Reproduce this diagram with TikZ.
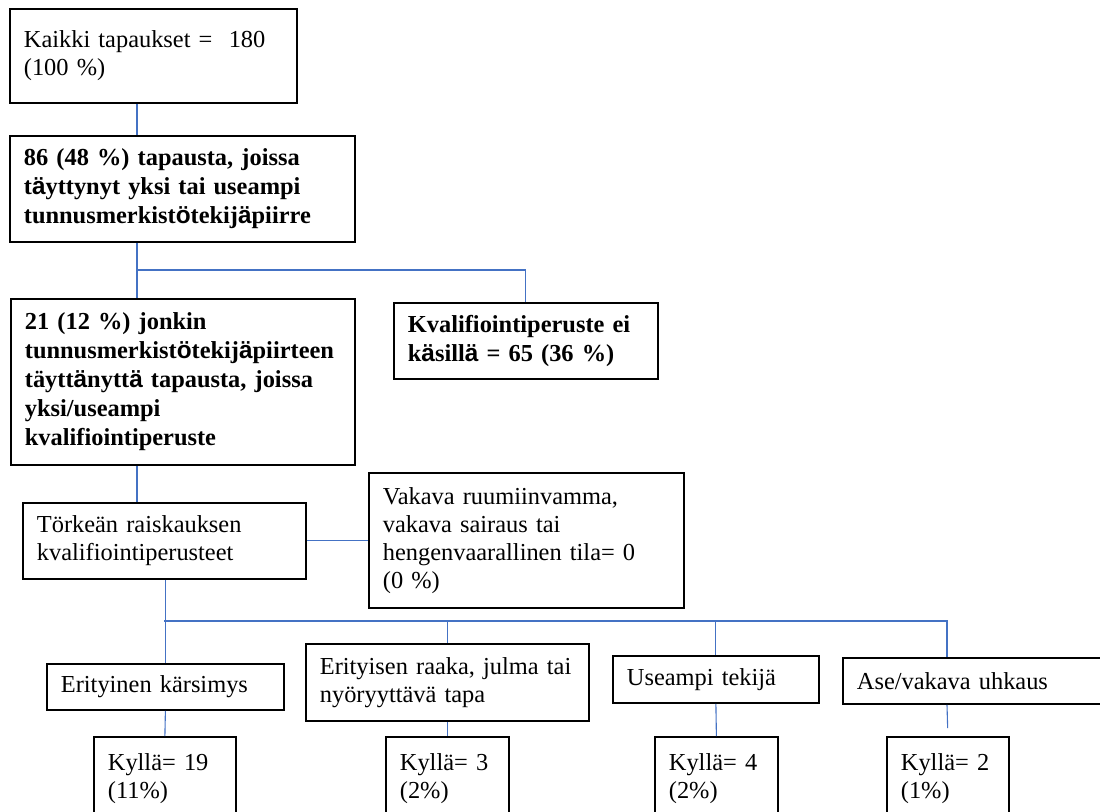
\documentclass[tikz,border=0pt]{standalone}
\usepackage{fontspec}
\setmainfont{Liberation Serif}
\newfontfamily\glyphsans{Liberation Sans}
\usepackage{tikz}
\definecolor{linkblue}{RGB}{68,114,196}
\newcommand{\altch}[1]{{\glyphsans #1}}
\tikzset{
  box/.style={draw, line width=0.9pt, anchor=north west, align=left, inner xsep=7pt, inner ysep=2pt, font=\fontsize{12.2}{14}\selectfont},
  boldbox/.style={box, font=\fontsize{12.2}{14.5}\selectfont\bfseries},
  link/.style={draw=linkblue, line width=0.55pt}
}

\begin{document}
\begin{tikzpicture}[x=0.5pt, y=-0.5pt]
  \useasboundingbox (0,0) rectangle (1100,811);
  \clip (0,0) rectangle (1100,811);
  % upper part
  \node[box, text width=129.5pt, minimum height=47pt] (all) at (9,8) {Kaikki tapaukset =\ \ 180\\(100 \%)};
  \node[boldbox, text width=158.5pt, minimum height=53pt] (crit) at (9,135) {86 (48 \%) tapausta, joissa\\t\altch{ä}yttynyt yksi tai useampi\\tunnusmerkist\altch{ö}tekij\altch{ä}piirre};
  \node[boldbox, text width=158pt, minimum height=83pt] (qual) at (10,298) {21 (12 \%) jonkin\\tunnusmerkist\altch{ö}tekij\altch{ä}piirteen\\täytt\altch{ä}nytt\altch{ä} tapausta, joissa\\yksi/useampi\\kvalifiointiperuste};
  \node[boldbox, text width=118pt, minimum height=38pt] (noqual) at (393,302) {Kvalifiointiperuste ei\\k\altch{ä}sill\altch{ä} = 65 (36 \%)};
  \node[box, text width=127.5pt, minimum height=38pt] (grounds) at (22,502) {Törkeän raiskauksen\\kvalifiointiperusteet};
  \node[box, text width=143.5pt, minimum height=67.5pt] (injury) at (368,472) {Vakava ruumiinvamma,\\vakava sairaus tai\\hengenvaarallinen tila= 0\\(0 \%)};
  % grounds
  \node[box, text width=104.5pt, minimum height=23pt] (suffer) at (46,663) {Erityinen kärsimys};
  \node[box, text width=127.5pt, minimum height=38.5pt] (cruel) at (305,643) {Erityisen raaka, julma tai\\nyöryyttävä tapa};
  \node[box, text width=89pt, minimum height=23.5pt] (several) at (612,655) {Useampi tekijä};
  \node[box, text width=120pt, minimum height=23pt] (weapon) at (842,657) {Ase/vakava uhkaus};
  % counts
  \node[box, text width=57pt, minimum height=42pt] (yes1) at (93,736) {Kyllä= 19\\(11\%)};
  \node[box, text width=47.5pt, minimum height=42pt] (yes2) at (385,736) {Kyllä= 3\\(2\%)};
  \node[box, text width=47.5pt, minimum height=42pt] (yes3) at (654,736) {Kyllä= 4\\(2\%)};
  \node[box, text width=47pt, minimum height=42pt] (yes4) at (886,736) {Kyllä= 2\\(1\%)};

  \coordinate (split1) at (137,270);
  \coordinate (split2) at (164,621);
  \coordinate (busend) at (947,621);
  \draw[link] (all.south -| split1) -- (crit.north -| split1);
  \draw[link] (crit.south -| split1) -- (qual.north -| split1);
  \draw[link] (split1) -| (noqual.north);
  \draw[link] (qual.south -| split1) -- (grounds.north -| split1);
  \draw[link] (grounds.east) -- (grounds.east -| injury.west);
  \draw[link] (grounds.south -| suffer.north) -- (suffer.north);
  \draw[link] (split2) -- (busend) -- (weapon.north -| busend);
  \draw[link] (cruel.north |- split2) -- (cruel.north);
  \draw[link] (several.north |- split2) -- (several.north);
  \draw[link] (suffer.south) -- (yes1.north);
  \draw[link] (cruel.south) -- (yes2.north);
  \draw[link] (several.south) -- (yes3.north);
  \draw[link, shorten >=4pt] (weapon.south -| busend) -- (yes4.north);
\end{tikzpicture}
\end{document}
